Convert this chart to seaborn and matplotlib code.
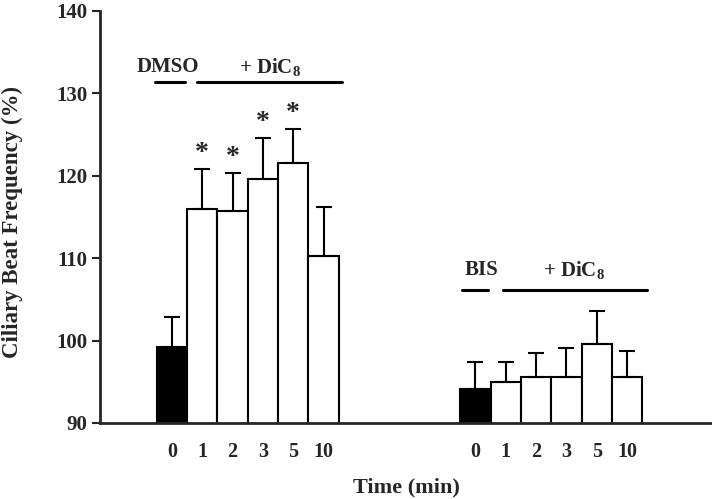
import matplotlib
matplotlib.use("Agg")
import matplotlib.pyplot as plt
import seaborn as sns
import pandas as pd
import numpy as np

# Data
time_labels = ["0", "1", "2", "3", "5", "10"]
dmso_mean = [99.2, 116.0, 115.7, 119.6, 121.6, 110.3]
dmso_err = [3.7, 4.8, 4.6, 5.0, 4.1, 5.9]
bis_mean = [94.1, 95.0, 95.6, 95.6, 99.6, 95.6]
bis_err = [3.3, 2.4, 2.9, 3.5, 4.0, 3.1]
group1_pos = [0, 1, 2, 3, 4, 5]
group2_pos = [10, 11, 12, 13, 14, 15]
kinds = ["pre", "post", "post", "post", "post", "post"]
significant = [False, True, True, True, True, False]

sns.set_theme(style="ticks")
plt.rcParams["font.family"] = ["Liberation Serif", "DejaVu Serif"]
plt.rcParams["font.weight"] = "bold"
plt.rcParams["mathtext.fontset"] = "custom"
plt.rcParams["mathtext.rm"] = "Liberation Serif:bold"
plt.rcParams["mathtext.bf"] = "Liberation Serif:bold"
plt.rcParams["mathtext.it"] = "Liberation Serif:bold"

df = pd.DataFrame({
    "pos": group1_pos + group2_pos,
    "value": dmso_mean + bis_mean,
    "err": dmso_err + bis_err,
    "kind": kinds + kinds,
    "label": time_labels + time_labels,
})

fig = plt.figure(figsize=(7.12, 4.99), dpi=100)
ax = fig.add_axes([100/712, 1-423/499, 612/712, 412/499])

sns.barplot(data=df, x="pos", y="value", hue="kind", palette={"pre": "black", "post": "white"},
            native_scale=True, width=1.0, dodge=False, edgecolor="black", linewidth=1.5,
            errorbar=None, legend=False, ax=ax)

yerr = np.vstack([np.zeros(len(df)), df["err"].values])
ax.errorbar(df["pos"], df["value"], yerr=yerr, fmt="none", ecolor="black",
            elinewidth=1.5, capsize=6, capthick=1.5, zorder=3)

ax.set_ylim(90, 140)
ax.set_xlim(-2.37, 17.8)
ax.set_yticks([90, 100, 110, 120, 130, 140])
ax.set_xticks(df["pos"])
ax.set_xticklabels(df["label"])
ax.tick_params(axis="x", length=0, pad=14, labelsize=14.5)
ax.tick_params(axis="y", length=6, width=1.5, direction="out", labelsize=15, pad=3)
for lab in ax.get_xticklabels() + ax.get_yticklabels():
    lab.set_fontweight("bold")
for s in ["top", "right"]:
    ax.spines[s].set_visible(False)
ax.spines["left"].set_linewidth(2)
ax.spines["bottom"].set_linewidth(2)

ax.set_xlabel("Time (min)", fontsize=16, fontweight="bold")
ax.xaxis.set_label_coords(0.5, -0.133)
ax.set_ylabel("Ciliary Beat Frequency (%)", fontsize=16.5, fontweight="bold")
ax.yaxis.set_label_coords(-0.125, 0.488)

# asterisks
allsig = significant + [False]*6
for p, v, e, s in zip(df["pos"], df["value"], df["err"], allsig):
    if s:
        ax.text(p, v + e + 0.4, "*", ha="center", va="bottom", fontsize=20, fontweight="bold")

# group annotations
ax.text(-0.13, 133.2, "DMSO", ha="center", va="center", fontsize=15, fontweight="bold")
ax.plot([-0.56, 0.43], [131.4, 131.4], color="black", lw=2.2, clip_on=False)
ax.text(3.23, 133.2, "+ DiC$_8$", ha="center", va="center", fontsize=15, fontweight="bold")
ax.plot([0.82, 5.6], [131.4, 131.4], color="black", lw=2.2, clip_on=False)

ax.text(10.2, 108.6, "BIS", ha="center", va="center", fontsize=15, fontweight="bold")
ax.plot([9.56, 10.42], [106.2, 106.2], color="black", lw=2.2, clip_on=False)
ax.text(13.25, 108.6, "+ DiC$_8$", ha="center", va="center", fontsize=15, fontweight="bold")
ax.plot([10.91, 15.66], [106.2, 106.2], color="black", lw=2.2, clip_on=False)

fig.savefig("out.png", dpi=100)
